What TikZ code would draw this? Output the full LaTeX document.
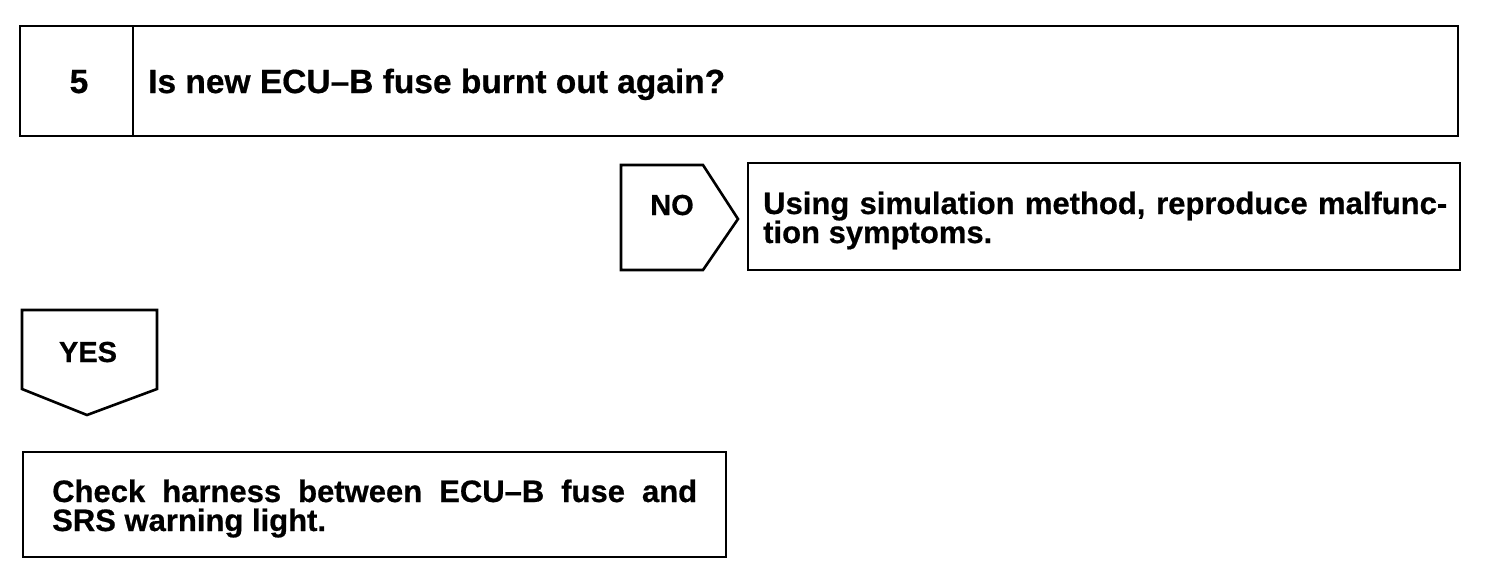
\documentclass[tikz,border=0pt]{standalone}
\usepackage{fontspec}
\setmainfont{Liberation Sans}[BoldFeatures={FakeBold=0.6}]
\begin{document}
\begin{tikzpicture}[x=1pt,y=-1pt,
  frame/.style={draw=black,line width=2.6pt,line join=miter},
  lbl/.style={inner sep=0pt,font=\fontsize{29}{29}\selectfont\bfseries},
  body/.style={inner sep=0pt,font=\fontsize{31}{30}\selectfont\bfseries},
  head/.style={inner sep=0pt,font=\fontsize{33.5}{33}\selectfont\bfseries}]
\useasboundingbox (0,0) rectangle (1504,582);
% step 5 header
\draw[frame] (20,26) rectangle (1458,136);
\draw[frame] (133,26) -- (133,136);
\node[head,anchor=base] (num) at (79,93) {5};
\node[head,anchor=base west] (q) at (148,93) {Is new ECU--B fuse burnt out again?};
% NO branch
\draw[frame] (621,165) -- (703,165) -- (738,219) -- (703,270) -- (621,270) -- cycle;
\node[lbl,anchor=base] (no) at (672,215) {NO};
\draw[frame] (748,163) rectangle (1460,270);
\node[body,anchor=base west] (sim1) at (763,214) {\makebox[684pt][s]{Using simulation method, reproduce malfunc-}};
\node[body,anchor=base west] (sim2) at (763,243) {tion symptoms.};
% YES branch
\draw[frame] (22,310) -- (157,310) -- (157,389) -- (87,415) -- (22,389) -- cycle;
\node[lbl,anchor=base] (yes) at (88,362) {YES};
\draw[frame] (23,452) rectangle (726,557);
\node[body,anchor=base west] (chk1) at (52,502) {\makebox[645pt][s]{Check harness between ECU--B fuse and}};
\node[body,anchor=base west] (chk2) at (52,531) {SRS warning light.};
\end{tikzpicture}
\end{document}
